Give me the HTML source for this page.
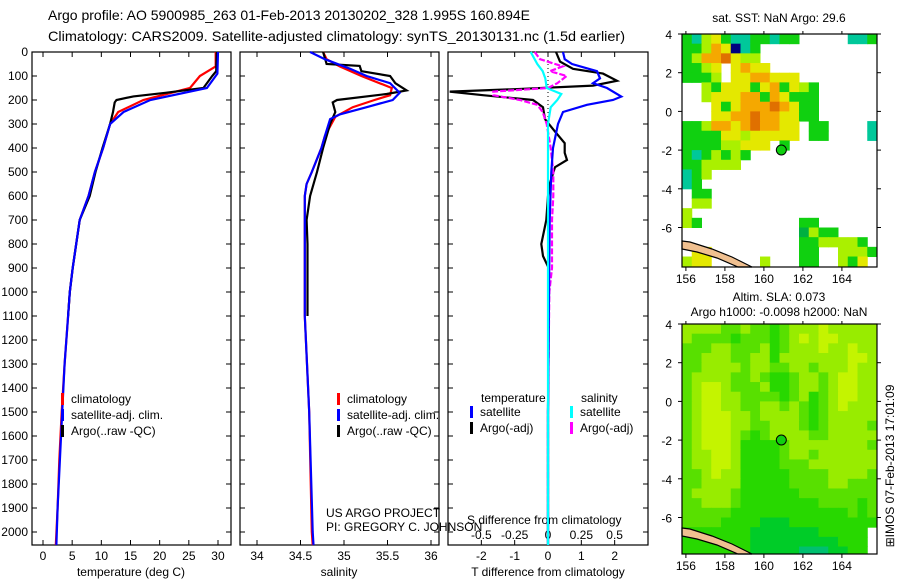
<!DOCTYPE html>
<html><head><meta charset="utf-8"><style>
body{margin:0;background:#fff;width:900px;height:580px;overflow:hidden}
svg{display:block;font-family:"Liberation Sans",sans-serif}
</style></head><body>
<svg id="fig" width="900" height="580" viewBox="0 0 900 580">
<text x="48" y="20" font-size="14" textLength="482" lengthAdjust="spacingAndGlyphs">Argo profile: AO 5900985_263 01-Feb-2013 20130202_328 1.995S 160.894E</text>
<text x="48" y="41" font-size="14" textLength="577" lengthAdjust="spacingAndGlyphs">Climatology: CARS2009. Satellite-adjusted climatology: synTS_20130131.nc (1.5d earlier)</text>
</svg>
<script>
// ---- profile data ----
const depthTicks=[0,100,200,300,400,500,600,700,800,900,1000,1100,1200,1300,1400,1500,1600,1700,1800,1900,2000];
const tempTicks=[0,5,10,15,20,25,30];
const salTicks=[34,34.5,35,35.5,36];
const dtTicks=[-2,-1,0,1,2];
const dsTicks=[-0.5,-0.25,0,0.25,0.5];
const dsTickLabels=['-0.5','-0.25','0','0.25','0.5'];

const tClimZ=[0,60,100,150,200,250,300,400,500,600,700,800,900,1000,1100,1300,1500,1700,1900,2054];
const tClimV=[29.6,29.6,26.9,25.2,17.2,12.9,11.5,10.3,8.9,7.8,6.3,5.7,5.1,4.6,4.3,3.7,3.2,2.8,2.5,2.2];
const tSatZ=[0,90,150,200,250,300,400,500,600,700,800,900,1000,1100,1300,1500,1700,1900,2054];
const tSatV=[30.0,29.9,28.1,18.4,13.8,11.5,10.3,8.9,7.8,6.3,5.7,5.1,4.6,4.3,3.7,3.3,2.9,2.5,2.3];
const tArgoZ=[0,80,100,150,170,185,200,210,250,300,400,500,600,700,800,900,1000,1100];
const tArgoV=[29.8,29.7,29.0,27.5,21,15.5,12.6,12.3,12.0,11.5,10.2,9.0,8.0,6.3,5.7,5.1,4.6,4.3];

const sClimZ=[0,30,60,100,150,180,200,230,270,350,400,500,550,600,1100,1500,2000,2054];
const sClimV=[34.76,34.8,34.95,35.2,35.55,35.53,35.35,35.1,34.9,34.78,34.74,34.63,34.57,34.55,34.55,34.6,34.63,34.64];
const sSatZ=[0,30,70,100,130,170,200,230,260,280,350,400,500,550,600,1100,1500,2000,2054];
const sSatV=[34.61,34.78,35.07,35.26,35.53,35.64,35.56,35.26,34.95,34.84,34.78,34.74,34.63,34.57,34.55,34.55,34.6,34.64,34.65];
const sArgoZ=[0,50,58,80,100,130,160,175,200,210,250,300,400,500,600,700,800,1100];
const sArgoV=[34.76,34.8,35.18,35.2,35.53,35.59,35.72,35.49,34.92,34.87,34.9,34.84,34.76,34.69,34.61,34.57,34.58,34.58];

const dtSatZ=[0,30,50,80,110,130,150,186,200,220,250,300,400,500,700,1000,1500,2054];
const dtSatV=[0.45,0.5,0.72,1.47,1.56,1.35,1.77,2.2,1.95,1.17,0.45,0.3,0.15,0.1,0.05,0.03,0,0];
const dtArgoZ=[0,40,70,90,120,140,155,165,180,200,230,280,330,380,420,450,480,550,600,700,800,850,900,1000,1500,2054];
const dtArgoV=[0.24,0.36,0.75,1.65,2.07,1.35,-1,-2.95,-1.95,-0.45,-0.15,-0.09,0.2,0.5,0.5,0.57,0.21,0.05,0,-0.05,-0.2,-0.15,0.02,0.03,0,0];
const dsArgoZ=[0,30,60,80,100,130,150,165,180,200,220,250,300,400,500,600,700,900,1000,1500,2054];
const dsArgoV=[-0.1,-0.06,0.11,0.015,0.14,0.07,0,-0.41,-0.41,-0.21,-0.08,-0.04,-0.01,0.02,0.04,0.04,0.03,0.03,0.01,0,0];
const dsSatZ=[0,50,80,110,150,175,200,230,300,2054];
const dsSatV=[-0.13,-0.08,-0.04,-0.02,-0.01,0.1,0.07,0.02,0,0];

// ---- map data ----
const latTicks=[4,2,0,-2,-4,-6];
const lonTicks=[156,158,160,162,164];
const argoLon=160.894, argoLat=-1.995;
const sstGrid=[
"GTYyGTTGGTGG.....TTG",
"GGYOyBTG............",
"GYOOoyYY............",
"GGYy.yOyy...........",
"GGGY.yyOOyyy........",
"..YGyyyGyOGyYG......",
"..YyyyOOGOyGGG......",
"...yGyOOOoOyGG......",
"...yyOOoOOyyGG......",
"GGYOOyOoOOyy.GG....T",
"GGGGyyYyyyyy.GG....T",
"GGGGYYyyy.G.........",
"GTGYGYG.............",
"GGYYYY..............",
"TGY.................",
"TG..................",
".GG.................",
".YY.................",
"Y...................",
"YG..........GG......",
"............gYGG....",
"............GGYYYYG.",
".yy.........GG..YYYG",
"Yyy.....Y...GG..YGy."];
const sstColors={G:'#10d010',g:'#00b040',T:'#00c89a',Y:'#aaf000',y:'#e4e800',O:'#f5a800',o:'#e07000',B:'#000080'};
const slaGrid=[
"bbbbccbccdcbbbabbbbb","bccccdcccdcbabaabbbb","cccbbcccbdcbbbabbabb","ccbbbccbbdbbbbbbbaab",
"ccbbbbcbbccbbcbbbabb","cbbbbccbcddcbbcbaabb","cbaabcccbddcbbcbaabb","cbaabbccccdcbdcbaabb",
"cbaabbccbbcbcdcbabbb","cbaaabbcbbbbcdcbbbbb","cbaaabbccbbbcdcbbbbc","cbaaabcdcbbbbccbbbbb",
"cbaaabddddcbbbbbbbbc","cbbaabddddcbbcbbbbbb","cbbaabddddcccbbbbbbb","ccbabbdddddccccbbbbc",
"ccbbbbdddddccccbbccc","cbbbbcddddddcccccccc","ccbbbcddddddddccccdc","cccccddddddddddddcdc",
"ccccddddeeeddddddddd","dddddddeeeeeeeddddd.","dddddddeeeeeeeeeddd.","dddddddeeeeefffeedd."];
const slaColors={a:'#c4f400',b:'#98ec00',c:'#58e000',d:'#28d800',e:'#00cc28',f:'#00c070'};

const NS='http://www.w3.org/2000/svg';
const svg=document.getElementById('fig');
function el(tag,attrs,parent){const e=document.createElementNS(NS,tag);for(const k in attrs)e.setAttribute(k,attrs[k]);(parent||svg).appendChild(e);return e;}
function txt(x,y,s,size,anchor,parent){const t=el('text',{x:x,y:y,'font-size':size||12,'text-anchor':anchor||'middle'},parent);t.textContent=s;return t;}

const Y0=52, YPX=0.24;
const yD=d=>Y0+d*YPX;
const TOP=52, BOT=545;

const panels=[
 {name:'temperature-panel',x0:32,x1:231,f:v=>43+v*5.833},
 {name:'salinity-panel',x0:240,x1:439,f:v=>257+(v-34)*87},
 {name:'difference-panel',x0:448,x1:648,f:v=>548+v*33.33}
];
panels.forEach(p=>{
 const g=el('g',{});
 
 
 p.g=g;
 const r=el('rect',{x:p.x0,y:TOP,width:p.x1-p.x0,height:BOT-TOP,fill:'#fff',stroke:'#000','stroke-width':1.2},g);
 
 
 depthTicks.forEach(d=>{
  el('line',{x1:p.x0,x2:p.x0+5,y1:yD(d),y2:yD(d),stroke:'#000'},g);
  el('line',{x1:p.x1-5,x2:p.x1,y1:yD(d),y2:yD(d),stroke:'#000'},g);
 });
});
const yl=el('g',{});


depthTicks.forEach(d=>txt(28,yD(d)+4,String(d),12,'end',yl));

function xTicks(p,ticks,labels,ly){
 const g=el('g',{},p.g);
 
 
 ticks.forEach((v,i)=>{
  const x=p.f(v);
  el('line',{x1:x,x2:x,y1:BOT-5,y2:BOT,stroke:'#000'},g);
  el('line',{x1:x,x2:x,y1:TOP,y2:TOP+5,stroke:'#000'},g);
  txt(x,ly,labels[i],12,'middle',g);
 });
}
xTicks(panels[0],tempTicks,tempTicks.map(String),560);
xTicks(panels[1],salTicks,salTicks.map(String),560);
xTicks(panels[2],dtTicks,dtTicks.map(String),560);
const pS={x0:448,x1:648,f:v=>548+v*133.3,g:panels[2].g};
const sg=el('g',{},panels[2].g);


dsTicks.forEach((v,i)=>txt(pS.f(v),539,dsTickLabels[i],12,'middle',sg));
const sat=txt(467,524,'S difference from climatology',12,'start',sg);



const xt1=txt(131,576,'temperature (deg C)',12);


const xt2=txt(339,576,'salinity',12);


const xt3=txt(548,576,'T difference from climatology',12);



const zl=el('line',{x1:548,x2:548,y1:TOP,y2:yD(300),stroke:'#000','stroke-dasharray':'1,3'},panels[2].g);



function profile(p,Z,V,scale,color,name,dash){
 const pts=Z.map((z,i)=>scale(V[i]).toFixed(1)+','+yD(z).toFixed(1)).join(' ');
 const l=el('polyline',{points:pts,fill:'none',stroke:color,'stroke-width':2.2},p.g);
 if(dash)l.setAttribute('stroke-dasharray',dash);
 
 
}
const P=panels;
profile(P[0],tClimZ,tClimV,P[0].f,'#f00','temperature-climatology-line');
profile(P[0],tArgoZ,tArgoV,P[0].f,'#000','temperature-argo-line');
profile(P[0],tSatZ,tSatV,P[0].f,'#00f','temperature-satellite-line');
profile(P[1],sClimZ,sClimV,P[1].f,'#f00','salinity-climatology-line');
profile(P[1],sArgoZ,sArgoV,P[1].f,'#000','salinity-argo-line');
profile(P[1],sSatZ,sSatV,P[1].f,'#00f','salinity-satellite-line');
profile(P[2],dtArgoZ,dtArgoV,P[2].f,'#000','t-diff-argo-line');
profile(P[2],dsArgoZ,dsArgoV,pS.f,'#f0f','s-diff-argo-line','6,2');
profile(P[2],dtSatZ,dtSatV,P[2].f,'#00f','t-diff-satellite-line');
profile(P[2],dsSatZ,dsSatV,pS.f,'#0ff','s-diff-satellite-line');

function legend(g,x,y,entries){
 const lg=el('g',{},g);
 
 
 entries.forEach((e,i)=>{
  const r=el('rect',{x:x,y:y+i*16-10,width:3,height:12,fill:e[0]},lg);
  
  
  txt(x+10,y+i*16,e[1],12,'start',lg);
 });
}
legend(P[0].g,61,403,[['#f00','climatology'],['#00f','satellite-adj. clim.'],['#000','Argo(..raw -QC)']]);
legend(P[1].g,337,403,[['#f00','climatology'],['#00f','satellite-adj. clim.'],['#000','Argo(..raw -QC)']]);
txt(481,402,'temperature',12,'start',P[2].g);
txt(581,402,'salinity',12,'start',P[2].g);
legend(P[2].g,470,416,[['#00f','satellite'],['#000','Argo(-adj)']]);
legend(P[2].g,570,416,[['#0ff','satellite'],['#f0f','Argo(-adj)']]);

const cr=el('g',{});


txt(326,517,'US ARGO PROJECT',12,'start',cr);
txt(326,531,'PI: GREGORY C. JOHNSON',12,'start',cr);

// ---- maps ----
const MX0=682,MX1=877, LON0=155.8, LPX=19.5, LATPX=19.35;
function makeMap(name,top,bottom,grid,colors){
 const g=el('g',{});
 
 
 const xL=lon=>MX0+(lon-LON0)*LPX;
 const yL=lat=>top+(4-lat)*LATPX;
 el('rect',{x:MX0,y:top,width:MX1-MX0,height:bottom-top,fill:'#fff'},g);
 grid.forEach((row,ri)=>{
  for(let ci=0;ci<row.length;ci++){
   const c=colors[row[ci]]; if(!c)continue;
   const x=xL(LON0+ci*0.5), y=yL(4-ri*0.5);
   el('rect',{x:x,y:y,width:LPX*0.5+0.5,height:Math.min(LATPX*0.5+0.5,bottom-y),fill:c},g);
  }
 });
 const land=el('path',{d:`M${MX0},${bottom-26} L${MX0+8},${bottom-25} L${MX0+30},${bottom-18} L${MX0+50},${bottom-10} L${MX0+70},${bottom} L${MX0+56},${bottom} L${MX0+35},${bottom-9} L${MX0+15},${bottom-15} L${MX0},${bottom-18} Z`,fill:'#f0c090',stroke:'#000','stroke-width':1.2},g);
 
 
 const m=el('circle',{cx:xL(argoLon),cy:yL(argoLat),r:5,fill:'#10d010',stroke:'#000','stroke-width':1},g);
 
 
 el('rect',{x:MX0,y:top,width:MX1-MX0,height:bottom-top,fill:'none',stroke:'#000','stroke-width':1.2},g);
 latTicks.forEach(l=>{
  el('line',{x1:MX0-4,x2:MX0,y1:yL(l),y2:yL(l),stroke:'#000'},g);
  el('line',{x1:MX1,x2:MX1+4,y1:yL(l),y2:yL(l),stroke:'#000'},g);
  txt(672,yL(l)+5,String(l),12,'end',g);
 });
 lonTicks.forEach(l=>{
  el('line',{x1:xL(l),x2:xL(l),y1:bottom,y2:bottom+4,stroke:'#000'},g);
  el('line',{x1:xL(l),x2:xL(l),y1:top-3,y2:top,stroke:'#000'},g);
  txt(xL(l),bottom+16,String(l),12,'middle',g);
 });
 return g;
}
const m1=makeMap('sst-map',34,267,sstGrid,sstColors);
const t1=txt(779,22,'sat. SST: NaN Argo: 29.6',12,'middle',m1);


const m2=makeMap('sla-map',324,554,slaGrid,slaColors);
const t2=txt(779,301,'Altim. SLA: 0.073',12,'middle',m2);


const t3=txt(779,316,'Argo h1000: -0.0098 h2000: NaN',12,'middle',m2);


const v=txt(0,0,'⊞IMOS 07-Feb-2013 17:01:09',12,'middle');
v.setAttribute('transform','translate(894,466) rotate(-90)');


</script>
</body></html>
